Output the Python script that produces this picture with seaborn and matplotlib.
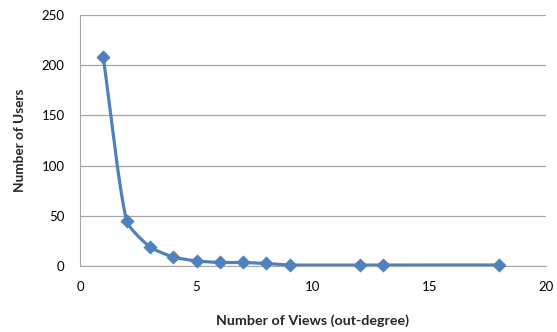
import numpy as np
import pandas as pd
import matplotlib
matplotlib.use("Agg")
import matplotlib.pyplot as plt
import seaborn as sns

views = [1, 2, 3, 4, 5, 6, 7, 8, 9, 12, 13, 18]
users = [208, 45, 19, 9, 5, 3.5, 3.5, 2.5, 1, 1, 1, 1]
x_ticks = [0, 5, 10, 15, 20]
y_ticks = [0, 50, 100, 150, 200, 250]

sns.set_style("white")
plt.rcParams['font.family'] = ['Lato', 'DejaVu Sans']

COLOR = "#4F81BD"
AX_W, AX_H = 466.0, 251.0  # axes size in pixels, used to smooth in screen space


def smooth(xs, ys, n=40, k=0.2):
    # Bezier smoothing through data points: tangent direction from neighbours,
    # handle length proportional to the adjacent segment (computed in screen space)
    pts = np.column_stack([np.asarray(xs, float) / 20 * AX_W,
                           np.asarray(ys, float) / 250 * AX_H])
    m = len(pts)
    tang = np.zeros_like(pts)
    for i in range(m):
        a = pts[max(i - 1, 0)]
        b = pts[min(i + 1, m - 1)]
        d = b - a
        tang[i] = d / np.linalg.norm(d)
    out = []
    for i in range(m - 1):
        p1, p2 = pts[i], pts[i + 1]
        L = np.linalg.norm(p2 - p1)
        c1 = p1 + tang[i] * L * k
        c2 = p2 - tang[i + 1] * L * k
        t = np.linspace(0, 1, n)[:, None]
        seg = ((1 - t) ** 3) * p1 + 3 * ((1 - t) ** 2) * t * c1 + 3 * (1 - t) * t ** 2 * c2 + t ** 3 * p2
        out.append(seg if i == 0 else seg[1:])
    c = np.vstack(out)
    return c[:, 0] / AX_W * 20, c[:, 1] / AX_H * 250


cx, cy = smooth(views, users)
df = pd.DataFrame({"views": views, "users": users})

fig = plt.figure(figsize=(5.57, 3.32), dpi=100)
ax = fig.add_axes([80 / 557, 1 - 266 / 332, AX_W / 557, AX_H / 332])

ax.plot(cx, cy, color=COLOR, lw=2.3, solid_capstyle="round", zorder=3)
sns.scatterplot(data=df, x="views", y="users", marker="D", s=45, color=COLOR,
                edgecolor=COLOR, linewidth=0.5, ax=ax, zorder=4, clip_on=False)

ax.set_xlim(0, 20)
ax.set_ylim(0, 250)
ax.set_xticks(x_ticks)
ax.set_yticks(y_ticks)
ax.set_xticklabels([str(v) for v in x_ticks], fontsize=9.5)
ax.set_yticklabels([str(v) for v in y_ticks], fontsize=9.5)
ax.grid(axis="y", color="#A6A6A6", lw=0.9)
ax.set_axisbelow(True)
for s in ["top", "right"]:
    ax.spines[s].set_visible(False)
ax.spines["left"].set_color("#A6A6A6")
ax.spines["bottom"].set_color("#A6A6A6")
ax.tick_params(axis="both", which="both", direction="out", length=5, width=0.9,
               color="#A6A6A6", pad=6, labelcolor="black")
ax.set_xlabel("Number of Views (out-degree)", fontsize=10.3, fontweight="bold", labelpad=15)
ax.set_ylabel("Number of Users", fontsize=9.8, fontweight="bold", labelpad=11)

fig.savefig("out.png", dpi=100, facecolor="white")
